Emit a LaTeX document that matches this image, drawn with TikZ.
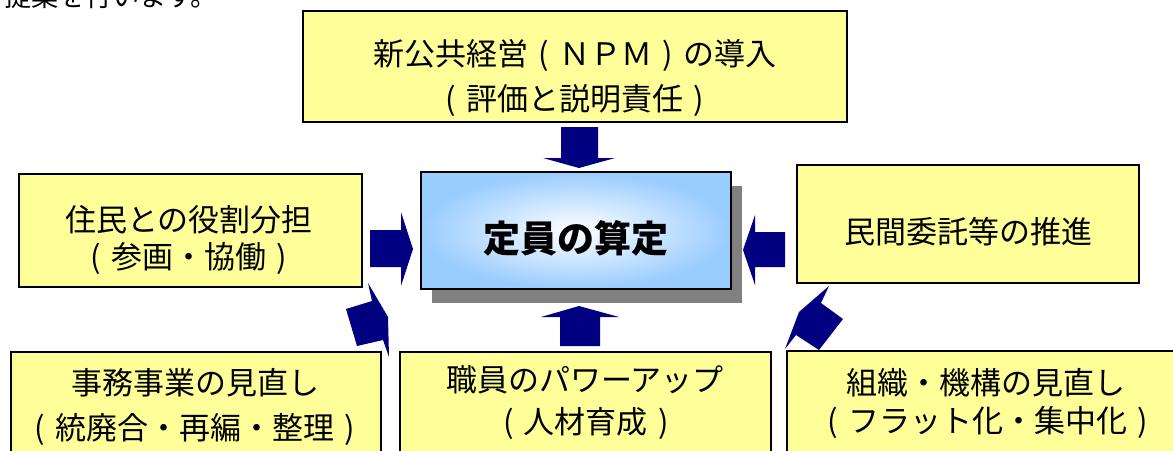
\documentclass[tikz,border=0pt]{standalone}
\usepackage{fontspec}
\newfontfamily\jp{Noto Sans CJK JP}
\definecolor{yfill}{HTML}{FFFF99}
\definecolor{navyarrow}{HTML}{000080}
\definecolor{lblue}{HTML}{99CCFF}
\definecolor{shadowgray}{HTML}{808080}
\newcommand\mylp{\makebox[1em][c]{(}}
\newcommand\myrp{\makebox[1em][c]{)}}
\begin{document}
\begin{tikzpicture}[x=1pt,y=-1pt,
  yellowbox/.style={draw=black, line width=1.6pt, fill=yfill, inner sep=0pt},
  lbl/.style={font=\jp\fontsize{31}{31}\selectfont, inner sep=0pt, anchor=center},
  blockarrow/.style={fill=navyarrow, draw=none}]
\useasboundingbox (0,0) rectangle (1173,450);
\clip (0,0) rectangle (1173,450);

% partial text at the top-left edge
\node[font=\jp\fontsize{27}{27}\selectfont, inner sep=0pt, anchor=west] (prev) at (4,-4) {提案を行います。};

% yellow boxes
\node[yellowbox, minimum width=544pt, minimum height=111pt] (npm) at (575,66.5) {};
\node[yellowbox, minimum width=343pt, minimum height=113pt] (jumin) at (190.5,230.5) {};
\node[yellowbox, minimum width=342pt, minimum height=118pt] (minkan) at (968,224) {};
\node[yellowbox, minimum width=370pt, minimum height=118pt] (jimu) at (196,411) {};
\node[yellowbox, minimum width=371pt, minimum height=118pt] (shokuin) at (585.5,411) {};
\node[yellowbox, minimum width=398pt, minimum height=119pt] (soshiki) at (986,410.5) {};

% centre box with shadow
\fill[shadowgray] (432,186) rectangle (742,303);
\node[draw=black, line width=1.6pt, minimum width=310pt, minimum height=117pt,
      inner color=white, outer color=lblue] (teiin) at (576,230.5) {};

% labels
\node[lbl] (t1a) at (575,55) {新公共経営\mylp ＮＰＭ\myrp の導入};
\node[lbl] (t1b) at (575,100) {\mylp 評価と説明責任\myrp};
\node[lbl] (t2a) at (189,220) {住民との役割分担};
\node[lbl] (t2b) at (189,258) {\mylp 参画・協働\myrp};
\node[lbl] (t3) at (968,232) {民間委託等の推進};
\node[lbl] (t4a) at (195,383) {事務事業の見直し};
\node[lbl] (t4b) at (195,430) {\mylp 統廃合・再編・整理\myrp};
\node[lbl] (t5a) at (585,380) {職員のパワーアップ};
\node[lbl] (t5b) at (586,423) {\mylp 人材育成\myrp};
\node[lbl] (t6a) at (986,383) {組織・機構の見直し};
\node[lbl] (t6b) at (988,422) {\mylp フラット化・集中化\myrp};
\node[font=\jp\bfseries\fontsize{37}{37}\selectfont, inner sep=0pt] (tc) at (576,238) {定員の算定};

% block arrows
\fill[blockarrow] (561,127) -- (598,127) -- (598,158) -- (615,158) -- (579,168) -- (543,158) -- (561,158) -- cycle;
\fill[blockarrow] (560,346) -- (600,346) -- (600,317) -- (619,317) -- (579,306) -- (541,317) -- (560,317) -- cycle;
\fill[blockarrow] (370,230) -- (401,230) -- (401,212) -- (413,249) -- (401,286) -- (401,267) -- (370,267) -- cycle;
\fill[blockarrow] (785,232) -- (755,232) -- (755,215) -- (743,250) -- (755,285) -- (755,267) -- (785,267) -- cycle;
\fill[blockarrow] (346,309) -- (372,301) -- (368,283) -- (388,317) -- (389,357) -- (383,340) -- (357,346) -- cycle;
\fill[blockarrow] (829,286) -- (821,303) -- (843,319) -- (819,350) -- (796,335) -- (785,349) -- (799,312) -- cycle;
\end{tikzpicture}
\end{document}
